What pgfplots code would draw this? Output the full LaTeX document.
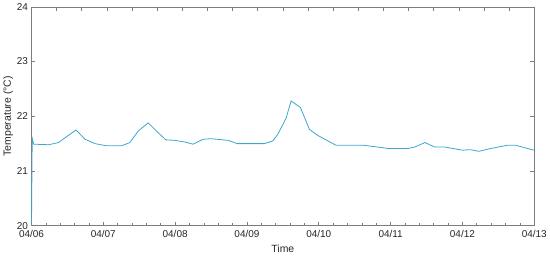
\documentclass[border=0pt]{standalone}
\usepackage{fontspec}
\setmainfont{Liberation Sans}
\usepackage{pgfplots}
\pgfplotsset{compat=1.18}
\definecolor{tline}{RGB}{62,166,204}
\definecolor{frame}{RGB}{125,125,125}

\begin{document}
\begin{tikzpicture}
\begin{axis}[
    scale only axis,
    width=503bp, height=219bp,
    xmin=0, xmax=7, ymin=20, ymax=24,
    xtick={0,...,7},
    xticklabels={04/06,04/07,04/08,04/09,04/10,04/11,04/12,04/13},
    minor x tick num=4,
    ytick={20,...,24},
    xtick pos=left,
    ytick pos=both,
    tick align=inside,
    major tick length=4bp,
    minor tick length=2.5bp,
    axis line style={frame, line width=0.6pt},
    tick style={frame, line width=0.6pt},
    ticklabel style={font=\fontsize{10}{12}\selectfont, text=black!85},
    xticklabel style={yshift=-1.5bp},
    /pgf/number format/assume math mode=true,
    xlabel={Time},
    ylabel={Temperature (°C)},
    label style={font=\fontsize{10.5}{12}\selectfont, text=black!85},
    xlabel style={yshift=0bp},
    ylabel style={yshift=-3bp},
]
\addplot[tline, line width=0.8pt] coordinates {
(0,20.0) (0.01,21.6) (0.03,21.49) (0.24,21.48) (0.375,21.52)
(0.62,21.75) (0.745,21.58) (0.885,21.50) (1.046,21.46) (1.254,21.46)
(1.37,21.52) (1.486,21.73) (1.625,21.88) (1.74,21.73) (1.87,21.57)
(1.995,21.56) (2.135,21.53) (2.25,21.49) (2.39,21.58) (2.50,21.59)
(2.74,21.56) (2.865,21.50) (3.245,21.50) (3.36,21.55) (3.43,21.67)
(3.546,21.97) (3.615,22.28) (3.745,22.16) (3.87,21.76) (3.986,21.65)
(4.24,21.47) (4.63,21.47) (4.98,21.41) (5.236,21.41) (5.34,21.44)
(5.48,21.52) (5.61,21.44) (5.745,21.44) (6.0,21.38) (6.107,21.39)
(6.23,21.36) (6.39,21.41) (6.625,21.47) (6.74,21.47) (6.97,21.39)
(7.0,21.38)
};
\end{axis}
\begin{axis}[
    scale only axis,
    width=503bp, height=219bp,
    xmin=0, xmax=10,
    axis x line*=top,
    axis y line=none,
    xtick={1,...,9},
    xticklabels={},
    tick align=inside,
    major tick length=4bp,
    axis line style={frame, line width=0.6pt},
    tick style={frame, line width=0.6pt},
]
\end{axis}
\end{tikzpicture}
\end{document}
